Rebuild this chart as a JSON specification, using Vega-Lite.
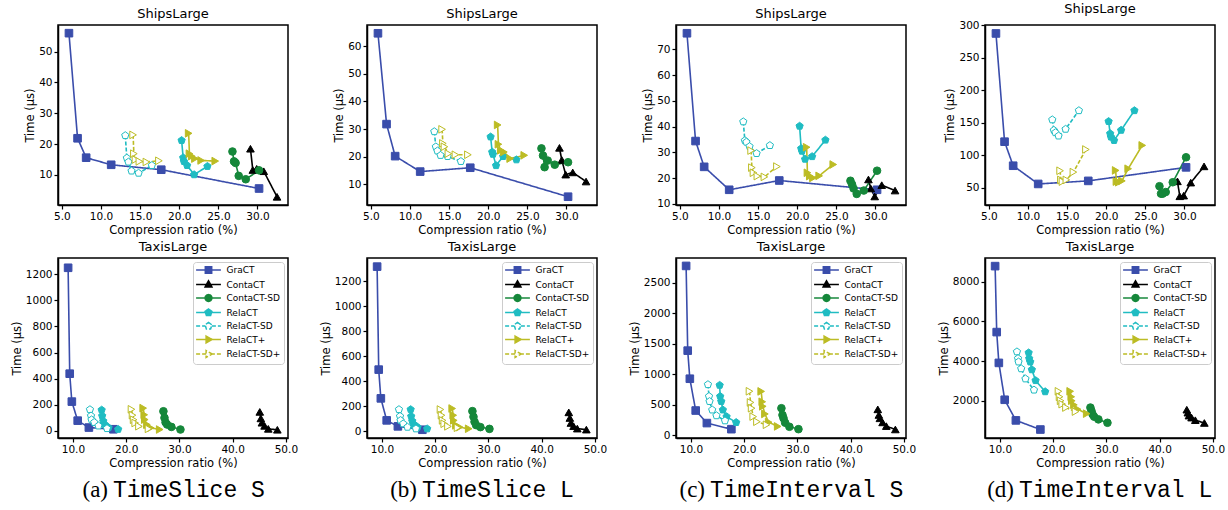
{
"$schema": "https://vega.github.io/schema/vega-lite/v6.json",
"padding": {"left": 10, "top": 2, "right": 5, "bottom": 0},
"params": [{"name": "shp", "value": {
 "GraCT": "M-3.1,0H-0.8M0.8,0H3.1M-0.8,-0.8H0.8V0.8H-0.8Z",
 "ContaCT": "M-3.1,0H-0.6M0.6,0H3.1M0,-0.95L0.85,0.6H-0.85Z",
 "ContaCT-SD": "M-3.1,0H-0.85M0.85,0H3.1M-0.85,0A0.85,0.85 0 1,0 0.85,0A0.85,0.85 0 1,0 -0.85,0Z",
 "RelaCT": "M-3.1,0H-0.85M0.85,0H3.1M0,-0.9L0.856,-0.278L0.529,0.728L-0.529,0.728L-0.856,-0.278Z",
 "RelaCT-SD": "M-3.1,0H-0.85M0.85,0H3.1M0,-0.9L0.856,-0.278L0.529,0.728L-0.529,0.728L-0.856,-0.278Z",
 "RelaCT+": "M-3.1,0H-0.6M0.6,0H3.1M0.95,0L-0.6,-0.85L-0.6,0.85Z",
 "RelaCT-SD+": "M-3.1,0H-0.6M0.6,0H3.1M0.95,0L-0.6,-0.85L-0.6,0.85Z"
}}],
"config": {
 "font": "DejaVu Sans",
 "view": {"stroke": "#000000", "strokeWidth": 1.5, "strokeOpacity": 1},
 "title": {"font": "DejaVu Sans", "fontSize": 13, "fontWeight": "normal", "color": "#000000", "offset": 4},
 "axis": {"labelFont": "DejaVu Sans", "labelFontSize": 10.5, "labelColor": "#000000", "titleFont": "DejaVu Sans", "titleFontSize": 11.5, "titleFontWeight": "normal", "titleColor": "#000000", "grid": false, "domain": true, "domainColor": "#000000", "domainWidth": 1.5, "domainOpacity": 1, "ticks": true, "tickColor": "#000000", "tickOpacity": 1, "tickSize": 4, "tickWidth": 1.2, "labelPadding": 2, "titlePadding": 3},
 "legend": {"orient": "top-right", "offset": 4, "padding": 3, "strokeColor": "#cccccc", "fillColor": "#ffffff", "cornerRadius": 3, "labelFont": "DejaVu Sans", "labelFontSize": 9, "labelColor": "#000000", "symbolSize": 64, "symbolStrokeWidth": 1.5, "symbolOffset": 7.5, "labelOffset": 13, "rowPadding": 0.5, "symbolLimit": 0}
},
"datasets": {
 "T": [
  {"s":"GraCT","i":0,"x":5.9,"a":56,"b":64.7,"c":76.2,"d":287.5},
  {"s":"GraCT","i":1,"x":7.0,"a":21.9,"b":31.8,"c":34.4,"d":121},
  {"s":"GraCT","i":2,"x":8.1,"a":15.6,"b":20.2,"c":24.4,"d":84},
  {"s":"GraCT","i":3,"x":11.3,"a":13.3,"b":14.6,"c":15.5,"d":56},
  {"s":"GraCT","i":4,"x":17.7,"a":11.7,"b":16,"c":19.1,"d":60.7},
  {"s":"GraCT","i":5,"x":30.2,"a":5.6,"b":5.5,"c":15.5,"d":81.5},
  {"s":"ContaCT","i":0,"x":29.1,"a":18.5,"b":23.2,"c":19.5,"d":60},
  {"s":"ContaCT","i":1,"x":29.4,"a":11.6,"b":18.8,"c":16,"d":37},
  {"s":"ContaCT","i":2,"x":29.9,"a":12,"b":13.5,"c":12.9,"d":38},
  {"s":"ContaCT","i":3,"x":30.8,"a":11.2,"b":14.3,"c":17.3,"d":58},
  {"s":"ContaCT","i":4,"x":32.5,"a":2.9,"b":11,"c":15.2,"d":83},
  {"s":"ContaCT-SD","i":0,"x":26.8,"a":17.6,"b":23,"c":19,"d":52.5},
  {"s":"ContaCT-SD","i":1,"x":27.0,"a":14.4,"b":20.4,"c":17.6,"d":41},
  {"s":"ContaCT-SD","i":2,"x":27.2,"a":13.9,"b":16.2,"c":16,"d":41},
  {"s":"ContaCT-SD","i":3,"x":27.6,"a":9.7,"b":18.6,"c":13.9,"d":43.5},
  {"s":"ContaCT-SD","i":4,"x":28.5,"a":8.6,"b":17.1,"c":15.2,"d":58.6},
  {"s":"ContaCT-SD","i":5,"x":30.2,"a":11.5,"b":18,"c":22.9,"d":97},
  {"s":"RelaCT","i":0,"x":20.3,"a":21.2,"b":27.2,"c":40.2,"d":152.2},
  {"s":"RelaCT","i":1,"x":20.5,"a":15.6,"b":21.7,"c":31.5,"d":133.5},
  {"s":"RelaCT","i":2,"x":20.6,"a":14.4,"b":20.9,"c":30.5,"d":128.3},
  {"s":"RelaCT","i":3,"x":21.0,"a":13.1,"b":16.8,"c":27.4,"d":123},
  {"s":"RelaCT","i":4,"x":21.9,"a":10.1,"b":20.1,"c":28.4,"d":138.7},
  {"s":"RelaCT","i":5,"x":23.6,"a":12.8,"b":18.9,"c":34.8,"d":168.9},
  {"s":"RelaCT-SD","i":0,"x":13.1,"a":22.8,"b":29.1,"c":41.9,"d":154.8},
  {"s":"RelaCT-SD","i":1,"x":13.3,"a":15.5,"b":23.6,"c":34.6,"d":138.7},
  {"s":"RelaCT-SD","i":2,"x":13.5,"a":14.2,"b":22.1,"c":34,"d":135},
  {"s":"RelaCT-SD","i":3,"x":13.9,"a":11.3,"b":20.5,"c":32.3,"d":129.9},
  {"s":"RelaCT-SD","i":4,"x":14.8,"a":10.6,"b":20.1,"c":29.6,"d":140.3},
  {"s":"RelaCT-SD","i":5,"x":16.5,"a":13.1,"b":18.3,"c":32.7,"d":168.9},
  {"s":"RelaCT+","i":0,"x":21.2,"a":23.5,"b":31.5,"c":32,"d":76.8},
  {"s":"RelaCT+","i":1,"x":21.3,"a":16.9,"b":24.5,"c":22.1,"d":59.6},
  {"s":"RelaCT+","i":2,"x":21.6,"a":16.1,"b":22.3,"c":20.8,"d":58.6},
  {"s":"RelaCT+","i":3,"x":22.0,"a":15.3,"b":21.7,"c":20.1,"d":60.7},
  {"s":"RelaCT+","i":4,"x":22.8,"a":14.7,"b":19.3,"c":20.9,"d":79.4},
  {"s":"RelaCT+","i":5,"x":24.6,"a":14.5,"b":20.5,"c":25.3,"d":115.3},
  {"s":"RelaCT-SD+","i":0,"x":14.1,"a":23,"b":29.9,"c":30.7,"d":76.3},
  {"s":"RelaCT-SD+","i":1,"x":14.2,"a":16.9,"b":24.8,"c":24.1,"d":62.2},
  {"s":"RelaCT-SD+","i":2,"x":14.4,"a":15,"b":23.6,"c":22.1,"d":59.6},
  {"s":"RelaCT-SD+","i":3,"x":14.9,"a":14.4,"b":21.1,"c":20.8,"d":62.2},
  {"s":"RelaCT-SD+","i":4,"x":15.8,"a":14.2,"b":20.7,"c":20.5,"d":74.2},
  {"s":"RelaCT-SD+","i":5,"x":17.4,"a":14.6,"b":20.7,"c":24.5,"d":109}
 ],
 "B": [
  {"s":"GraCT","i":0,"x":9.1,"a":1250,"b":1316,"c":2780,"d":8784},
  {"s":"GraCT","i":1,"x":9.4,"a":438,"b":492,"c":1389,"d":5460},
  {"s":"GraCT","i":2,"x":9.8,"a":224,"b":262,"c":928,"d":3908},
  {"s":"GraCT","i":3,"x":10.9,"a":78,"b":86,"c":406,"d":2050},
  {"s":"GraCT","i":4,"x":13.0,"a":25,"b":38,"c":200,"d":1010},
  {"s":"GraCT","i":5,"x":17.6,"a":12,"b":11,"c":100,"d":550},
  {"s":"ContaCT","i":0,"x":45.1,"a":145,"b":150,"c":425,"d":1550},
  {"s":"ContaCT","i":1,"x":45.3,"a":95,"b":105,"c":333,"d":1400},
  {"s":"ContaCT","i":2,"x":45.5,"a":62,"b":65,"c":278,"d":1250},
  {"s":"ContaCT","i":3,"x":46.0,"a":38,"b":40,"c":211,"d":1150},
  {"s":"ContaCT","i":4,"x":46.7,"a":15,"b":20,"c":150,"d":1020},
  {"s":"ContaCT","i":5,"x":48.4,"a":8,"b":12,"c":95,"d":880},
  {"s":"ContaCT-SD","i":0,"x":27.0,"a":150,"b":160,"c":444,"d":1657},
  {"s":"ContaCT-SD","i":1,"x":27.2,"a":100,"b":115,"c":333,"d":1487},
  {"s":"ContaCT-SD","i":2,"x":27.4,"a":65,"b":75,"c":278,"d":1316},
  {"s":"ContaCT-SD","i":3,"x":27.7,"a":48,"b":48,"c":206,"d":1197},
  {"s":"ContaCT-SD","i":4,"x":28.5,"a":30,"b":32,"c":139,"d":1061},
  {"s":"ContaCT-SD","i":5,"x":30.2,"a":10,"b":18,"c":100,"d":890},
  {"s":"RelaCT","i":0,"x":15.4,"a":160,"b":173,"c":822,"d":4420},
  {"s":"RelaCT","i":1,"x":15.5,"a":115,"b":119,"c":639,"d":4130},
  {"s":"RelaCT","i":2,"x":15.7,"a":75,"b":81,"c":556,"d":3960},
  {"s":"RelaCT","i":3,"x":16.0,"a":48,"b":54,"c":417,"d":3567},
  {"s":"RelaCT","i":4,"x":16.7,"a":25,"b":32,"c":306,"d":3021},
  {"s":"RelaCT","i":5,"x":18.5,"a":12,"b":19,"c":211,"d":2459},
  {"s":"RelaCT-SD","i":0,"x":13.2,"a":163,"b":173,"c":833,"d":4470},
  {"s":"RelaCT-SD","i":1,"x":13.4,"a":115,"b":119,"c":639,"d":4130},
  {"s":"RelaCT-SD","i":2,"x":13.5,"a":85,"b":86,"c":556,"d":3960},
  {"s":"RelaCT-SD","i":3,"x":14.0,"a":65,"b":59,"c":417,"d":3618},
  {"s":"RelaCT-SD","i":4,"x":14.8,"a":38,"b":32,"c":322,"d":3107},
  {"s":"RelaCT-SD","i":5,"x":16.4,"a":18,"b":19,"c":239,"d":2544},
  {"s":"RelaCT+","i":0,"x":23.2,"a":174,"b":181,"c":720,"d":2476},
  {"s":"RelaCT+","i":1,"x":23.4,"a":123,"b":127,"c":550,"d":2200},
  {"s":"RelaCT+","i":2,"x":23.5,"a":86,"b":86,"c":475,"d":2000},
  {"s":"RelaCT+","i":3,"x":23.9,"a":48,"b":46,"c":350,"d":1794},
  {"s":"RelaCT+","i":4,"x":24.6,"a":23,"b":32,"c":215,"d":1572},
  {"s":"RelaCT+","i":5,"x":26.3,"a":10,"b":19,"c":145,"d":1350},
  {"s":"RelaCT-SD+","i":0,"x":21.0,"a":165,"b":173,"c":722,"d":2476},
  {"s":"RelaCT-SD+","i":1,"x":21.2,"a":120,"b":127,"c":539,"d":2200},
  {"s":"RelaCT-SD+","i":2,"x":21.4,"a":85,"b":86,"c":444,"d":2000},
  {"s":"RelaCT-SD+","i":3,"x":21.7,"a":60,"b":59,"c":306,"d":1828},
  {"s":"RelaCT-SD+","i":4,"x":22.4,"a":35,"b":38,"c":222,"d":1657},
  {"s":"RelaCT-SD+","i":5,"x":24.2,"a":15,"b":27,"c":172,"d":1453}
 ]
},
"columns": 4,
"spacing": {"row": 3, "column": 20},
"resolve": {
 "scale": {"stroke": "independent", "fill": "independent", "shape": "independent", "strokeDash": "independent"},
 "legend": {"stroke": "independent", "fill": "independent", "shape": "independent", "strokeDash": "independent"}
},
"concat": [
 {"title": "ShipsLarge", "width": 230, "height": 180, "view": {"stroke": "#000000", "strokeWidth": 1.5, "strokeOpacity": 1}, "data": {"name": "T"},
  "encoding": {
   "x": {"field": "x", "type": "quantitative", "scale": {"domain": [4.5, 33.9], "nice": false, "zero": false}, "axis": {"values": [5,10,15,20,25,30], "format": ".1f", "title": "Compression ratio (%)", "domain": true, "ticks": true, "domainColor": "#000000", "tickColor": "#000000"}},
   "y": {"field": "a", "type": "quantitative", "scale": {"domain": [0.25, 58.65], "nice": false, "zero": false}, "axis": {"values": [10,20,30,40,50], "format": "d", "title": "Time (μs)", "domain": true, "ticks": true, "domainColor": "#000000", "tickColor": "#000000"}},
   "stroke": {"field": "s", "type": "nominal", "scale": {"domain": ["GraCT","ContaCT","ContaCT-SD","RelaCT","RelaCT-SD","RelaCT+","RelaCT-SD+"], "range": ["#3a4dab","#000000","#15873a","#1fbcc2","#1fbcc2","#bcbc24","#bcbc24"]}, "legend": null}
  },
  "layer": [
   {"mark": {"type": "line", "strokeWidth": 1.6}, "encoding": {"strokeDash": {"field": "s", "type": "nominal", "scale": {"domain": ["GraCT","ContaCT","ContaCT-SD","RelaCT","RelaCT-SD","RelaCT+","RelaCT-SD+"], "range": [[1,0],[1,0],[1,0],[1,0],[4,2],[1,0],[4,2]]}, "legend": null}, "order": {"field": "i", "type": "quantitative"}}},
   {"mark": {"type": "point", "size": 58, "strokeWidth": 1, "opacity": 1}, "encoding": {"fill": {"field": "s", "type": "nominal", "scale": {"domain": ["GraCT","ContaCT","ContaCT-SD","RelaCT","RelaCT-SD","RelaCT+","RelaCT-SD+"], "range": ["#3a4dab","#000000","#15873a","#1fbcc2","#ffffff","#bcbc24","#ffffff"]}, "legend": null}, "shape": {"field": "s", "type": "nominal", "scale": {"domain": ["RelaCT-SD+","RelaCT+","RelaCT-SD","RelaCT","ContaCT-SD","ContaCT","GraCT"], "range": ["triangle-right","triangle-right","M0,-1L0.951,-0.309L0.588,0.809L-0.588,0.809L-0.951,-0.309Z","M0,-1L0.951,-0.309L0.588,0.809L-0.588,0.809L-0.951,-0.309Z","circle","triangle-up","square"]}, "legend": null}}}
  ]},
 {"title": "ShipsLarge", "width": 230, "height": 180, "view": {"stroke": "#000000", "strokeWidth": 1.5, "strokeOpacity": 1}, "data": {"name": "T"},
  "encoding": {
   "x": {"field": "x", "type": "quantitative", "scale": {"domain": [4.5, 33.9], "nice": false, "zero": false}, "axis": {"values": [5,10,15,20,25,30], "format": ".1f", "title": "Compression ratio (%)", "domain": true, "ticks": true, "domainColor": "#000000", "tickColor": "#000000"}},
   "y": {"field": "b", "type": "quantitative", "scale": {"domain": [2.5, 67.7], "nice": false, "zero": false}, "axis": {"values": [10,20,30,40,50,60], "format": "d", "title": "Time (μs)", "domain": true, "ticks": true, "domainColor": "#000000", "tickColor": "#000000"}},
   "stroke": {"field": "s", "type": "nominal", "scale": {"domain": ["GraCT","ContaCT","ContaCT-SD","RelaCT","RelaCT-SD","RelaCT+","RelaCT-SD+"], "range": ["#3a4dab","#000000","#15873a","#1fbcc2","#1fbcc2","#bcbc24","#bcbc24"]}, "legend": null}
  },
  "layer": [
   {"mark": {"type": "line", "strokeWidth": 1.6}, "encoding": {"strokeDash": {"field": "s", "type": "nominal", "scale": {"domain": ["GraCT","ContaCT","ContaCT-SD","RelaCT","RelaCT-SD","RelaCT+","RelaCT-SD+"], "range": [[1,0],[1,0],[1,0],[1,0],[4,2],[1,0],[4,2]]}, "legend": null}, "order": {"field": "i", "type": "quantitative"}}},
   {"mark": {"type": "point", "size": 58, "strokeWidth": 1, "opacity": 1}, "encoding": {"fill": {"field": "s", "type": "nominal", "scale": {"domain": ["GraCT","ContaCT","ContaCT-SD","RelaCT","RelaCT-SD","RelaCT+","RelaCT-SD+"], "range": ["#3a4dab","#000000","#15873a","#1fbcc2","#ffffff","#bcbc24","#ffffff"]}, "legend": null}, "shape": {"field": "s", "type": "nominal", "scale": {"domain": ["RelaCT-SD+","RelaCT+","RelaCT-SD","RelaCT","ContaCT-SD","ContaCT","GraCT"], "range": ["triangle-right","triangle-right","M0,-1L0.951,-0.309L0.588,0.809L-0.588,0.809L-0.951,-0.309Z","M0,-1L0.951,-0.309L0.588,0.809L-0.588,0.809L-0.951,-0.309Z","circle","triangle-up","square"]}, "legend": null}}}
  ]},
 {"title": "ShipsLarge", "width": 230, "height": 180, "view": {"stroke": "#000000", "strokeWidth": 1.5, "strokeOpacity": 1}, "data": {"name": "T"},
  "encoding": {
   "x": {"field": "x", "type": "quantitative", "scale": {"domain": [4.5, 33.9], "nice": false, "zero": false}, "axis": {"values": [5,10,15,20,25,30], "format": ".1f", "title": "Compression ratio (%)", "domain": true, "ticks": true, "domainColor": "#000000", "tickColor": "#000000"}},
   "y": {"field": "c", "type": "quantitative", "scale": {"domain": [9.6, 79.4], "nice": false, "zero": false}, "axis": {"values": [10,20,30,40,50,60,70], "format": "d", "title": "Time (μs)", "domain": true, "ticks": true, "domainColor": "#000000", "tickColor": "#000000"}},
   "stroke": {"field": "s", "type": "nominal", "scale": {"domain": ["GraCT","ContaCT","ContaCT-SD","RelaCT","RelaCT-SD","RelaCT+","RelaCT-SD+"], "range": ["#3a4dab","#000000","#15873a","#1fbcc2","#1fbcc2","#bcbc24","#bcbc24"]}, "legend": null}
  },
  "layer": [
   {"mark": {"type": "line", "strokeWidth": 1.6}, "encoding": {"strokeDash": {"field": "s", "type": "nominal", "scale": {"domain": ["GraCT","ContaCT","ContaCT-SD","RelaCT","RelaCT-SD","RelaCT+","RelaCT-SD+"], "range": [[1,0],[1,0],[1,0],[1,0],[4,2],[1,0],[4,2]]}, "legend": null}, "order": {"field": "i", "type": "quantitative"}}},
   {"mark": {"type": "point", "size": 58, "strokeWidth": 1, "opacity": 1}, "encoding": {"fill": {"field": "s", "type": "nominal", "scale": {"domain": ["GraCT","ContaCT","ContaCT-SD","RelaCT","RelaCT-SD","RelaCT+","RelaCT-SD+"], "range": ["#3a4dab","#000000","#15873a","#1fbcc2","#ffffff","#bcbc24","#ffffff"]}, "legend": null}, "shape": {"field": "s", "type": "nominal", "scale": {"domain": ["RelaCT-SD+","RelaCT+","RelaCT-SD","RelaCT","ContaCT-SD","ContaCT","GraCT"], "range": ["triangle-right","triangle-right","M0,-1L0.951,-0.309L0.588,0.809L-0.588,0.809L-0.951,-0.309Z","M0,-1L0.951,-0.309L0.588,0.809L-0.588,0.809L-0.951,-0.309Z","circle","triangle-up","square"]}, "legend": null}}}
  ]},
 {"title": "ShipsLarge", "width": 230, "height": 180, "view": {"stroke": "#000000", "strokeWidth": 1.5, "strokeOpacity": 1}, "data": {"name": "T"},
  "encoding": {
   "x": {"field": "x", "type": "quantitative", "scale": {"domain": [4.5, 33.9], "nice": false, "zero": false}, "axis": {"values": [5,10,15,20,25,30], "format": ".1f", "title": "Compression ratio (%)", "domain": true, "ticks": true, "domainColor": "#000000", "tickColor": "#000000"}},
   "y": {"field": "d", "type": "quantitative", "scale": {"domain": [23.6, 300.5], "nice": false, "zero": false}, "axis": {"values": [50,100,150,200,250,300], "format": "d", "title": "Time (μs)", "domain": true, "ticks": true, "domainColor": "#000000", "tickColor": "#000000"}},
   "stroke": {"field": "s", "type": "nominal", "scale": {"domain": ["GraCT","ContaCT","ContaCT-SD","RelaCT","RelaCT-SD","RelaCT+","RelaCT-SD+"], "range": ["#3a4dab","#000000","#15873a","#1fbcc2","#1fbcc2","#bcbc24","#bcbc24"]}, "legend": null}
  },
  "layer": [
   {"mark": {"type": "line", "strokeWidth": 1.6}, "encoding": {"strokeDash": {"field": "s", "type": "nominal", "scale": {"domain": ["GraCT","ContaCT","ContaCT-SD","RelaCT","RelaCT-SD","RelaCT+","RelaCT-SD+"], "range": [[1,0],[1,0],[1,0],[1,0],[4,2],[1,0],[4,2]]}, "legend": null}, "order": {"field": "i", "type": "quantitative"}}},
   {"mark": {"type": "point", "size": 58, "strokeWidth": 1, "opacity": 1}, "encoding": {"fill": {"field": "s", "type": "nominal", "scale": {"domain": ["GraCT","ContaCT","ContaCT-SD","RelaCT","RelaCT-SD","RelaCT+","RelaCT-SD+"], "range": ["#3a4dab","#000000","#15873a","#1fbcc2","#ffffff","#bcbc24","#ffffff"]}, "legend": null}, "shape": {"field": "s", "type": "nominal", "scale": {"domain": ["RelaCT-SD+","RelaCT+","RelaCT-SD","RelaCT","ContaCT-SD","ContaCT","GraCT"], "range": ["triangle-right","triangle-right","M0,-1L0.951,-0.309L0.588,0.809L-0.588,0.809L-0.951,-0.309Z","M0,-1L0.951,-0.309L0.588,0.809L-0.588,0.809L-0.951,-0.309Z","circle","triangle-up","square"]}, "legend": null}}}
  ]},
 {"title": "TaxisLarge", "width": 230, "height": 180, "view": {"stroke": "#000000", "strokeWidth": 1.5, "strokeOpacity": 1}, "data": {"name": "B"},
  "encoding": {
   "x": {"field": "x", "type": "quantitative", "scale": {"domain": [7.2, 50.4], "nice": false, "zero": false}, "axis": {"values": [10,20,30,40,50], "format": ".1f", "title": "Compression ratio (%)", "domain": true, "ticks": true, "domainColor": "#000000", "tickColor": "#000000"}},
   "y": {"field": "a", "type": "quantitative", "scale": {"domain": [-55, 1325], "nice": false, "zero": false}, "axis": {"values": [0,200,400,600,800,1000,1200], "format": "d", "title": "Time (μs)", "domain": true, "ticks": true, "domainColor": "#000000", "tickColor": "#000000"}},
   "stroke": {"field": "s", "type": "nominal", "scale": {"domain": ["GraCT","ContaCT","ContaCT-SD","RelaCT","RelaCT-SD","RelaCT+","RelaCT-SD+"], "range": ["#3a4dab","#000000","#15873a","#1fbcc2","#1fbcc2","#bcbc24","#bcbc24"]}, "legend": {"title": null, "encode": {"symbols": {"update": {"shape": {"signal": "shp[datum.value]"}}}}}}
  },
  "layer": [
   {"mark": {"type": "line", "strokeWidth": 1.6}, "encoding": {"strokeDash": {"field": "s", "type": "nominal", "scale": {"domain": ["GraCT","ContaCT","ContaCT-SD","RelaCT","RelaCT-SD","RelaCT+","RelaCT-SD+"], "range": [[1,0],[1,0],[1,0],[1,0],[4,2],[1,0],[4,2]]}, "legend": {"title": null, "encode": {"symbols": {"update": {"shape": {"signal": "shp[datum.value]"}}}}}}, "order": {"field": "i", "type": "quantitative"}}},
   {"mark": {"type": "point", "size": 58, "strokeWidth": 1, "opacity": 1}, "encoding": {"fill": {"field": "s", "type": "nominal", "scale": {"domain": ["GraCT","ContaCT","ContaCT-SD","RelaCT","RelaCT-SD","RelaCT+","RelaCT-SD+"], "range": ["#3a4dab","#000000","#15873a","#1fbcc2","#ffffff","#bcbc24","#ffffff"]}, "legend": {"title": null, "encode": {"symbols": {"update": {"shape": {"signal": "shp[datum.value]"}}}}}}, "shape": {"field": "s", "type": "nominal", "scale": {"domain": ["RelaCT-SD+","RelaCT+","RelaCT-SD","RelaCT","ContaCT-SD","ContaCT","GraCT"], "range": ["triangle-right","triangle-right","M0,-1L0.951,-0.309L0.588,0.809L-0.588,0.809L-0.951,-0.309Z","M0,-1L0.951,-0.309L0.588,0.809L-0.588,0.809L-0.951,-0.309Z","circle","triangle-up","square"]}, "legend": null}}}
  ]},
 {"title": "TaxisLarge", "width": 230, "height": 180, "view": {"stroke": "#000000", "strokeWidth": 1.5, "strokeOpacity": 1}, "data": {"name": "B"},
  "encoding": {
   "x": {"field": "x", "type": "quantitative", "scale": {"domain": [7.2, 50.4], "nice": false, "zero": false}, "axis": {"values": [10,20,30,40,50], "format": ".1f", "title": "Compression ratio (%)", "domain": true, "ticks": true, "domainColor": "#000000", "tickColor": "#000000"}},
   "y": {"field": "b", "type": "quantitative", "scale": {"domain": [-55, 1385], "nice": false, "zero": false}, "axis": {"values": [0,200,400,600,800,1000,1200], "format": "d", "title": "Time (μs)", "domain": true, "ticks": true, "domainColor": "#000000", "tickColor": "#000000"}},
   "stroke": {"field": "s", "type": "nominal", "scale": {"domain": ["GraCT","ContaCT","ContaCT-SD","RelaCT","RelaCT-SD","RelaCT+","RelaCT-SD+"], "range": ["#3a4dab","#000000","#15873a","#1fbcc2","#1fbcc2","#bcbc24","#bcbc24"]}, "legend": {"title": null, "encode": {"symbols": {"update": {"shape": {"signal": "shp[datum.value]"}}}}}}
  },
  "layer": [
   {"mark": {"type": "line", "strokeWidth": 1.6}, "encoding": {"strokeDash": {"field": "s", "type": "nominal", "scale": {"domain": ["GraCT","ContaCT","ContaCT-SD","RelaCT","RelaCT-SD","RelaCT+","RelaCT-SD+"], "range": [[1,0],[1,0],[1,0],[1,0],[4,2],[1,0],[4,2]]}, "legend": {"title": null, "encode": {"symbols": {"update": {"shape": {"signal": "shp[datum.value]"}}}}}}, "order": {"field": "i", "type": "quantitative"}}},
   {"mark": {"type": "point", "size": 58, "strokeWidth": 1, "opacity": 1}, "encoding": {"fill": {"field": "s", "type": "nominal", "scale": {"domain": ["GraCT","ContaCT","ContaCT-SD","RelaCT","RelaCT-SD","RelaCT+","RelaCT-SD+"], "range": ["#3a4dab","#000000","#15873a","#1fbcc2","#ffffff","#bcbc24","#ffffff"]}, "legend": {"title": null, "encode": {"symbols": {"update": {"shape": {"signal": "shp[datum.value]"}}}}}}, "shape": {"field": "s", "type": "nominal", "scale": {"domain": ["RelaCT-SD+","RelaCT+","RelaCT-SD","RelaCT","ContaCT-SD","ContaCT","GraCT"], "range": ["triangle-right","triangle-right","M0,-1L0.951,-0.309L0.588,0.809L-0.588,0.809L-0.951,-0.309Z","M0,-1L0.951,-0.309L0.588,0.809L-0.588,0.809L-0.951,-0.309Z","circle","triangle-up","square"]}, "legend": null}}}
  ]},
 {"title": "TaxisLarge", "width": 230, "height": 180, "view": {"stroke": "#000000", "strokeWidth": 1.5, "strokeOpacity": 1}, "data": {"name": "B"},
  "encoding": {
   "x": {"field": "x", "type": "quantitative", "scale": {"domain": [7.2, 50.4], "nice": false, "zero": false}, "axis": {"values": [10,20,30,40,50], "format": ".1f", "title": "Compression ratio (%)", "domain": true, "ticks": true, "domainColor": "#000000", "tickColor": "#000000"}},
   "y": {"field": "c", "type": "quantitative", "scale": {"domain": [-45, 2910], "nice": false, "zero": false}, "axis": {"values": [0,500,1000,1500,2000,2500], "format": "d", "title": "Time (μs)", "domain": true, "ticks": true, "domainColor": "#000000", "tickColor": "#000000"}},
   "stroke": {"field": "s", "type": "nominal", "scale": {"domain": ["GraCT","ContaCT","ContaCT-SD","RelaCT","RelaCT-SD","RelaCT+","RelaCT-SD+"], "range": ["#3a4dab","#000000","#15873a","#1fbcc2","#1fbcc2","#bcbc24","#bcbc24"]}, "legend": {"title": null, "encode": {"symbols": {"update": {"shape": {"signal": "shp[datum.value]"}}}}}}
  },
  "layer": [
   {"mark": {"type": "line", "strokeWidth": 1.6}, "encoding": {"strokeDash": {"field": "s", "type": "nominal", "scale": {"domain": ["GraCT","ContaCT","ContaCT-SD","RelaCT","RelaCT-SD","RelaCT+","RelaCT-SD+"], "range": [[1,0],[1,0],[1,0],[1,0],[4,2],[1,0],[4,2]]}, "legend": {"title": null, "encode": {"symbols": {"update": {"shape": {"signal": "shp[datum.value]"}}}}}}, "order": {"field": "i", "type": "quantitative"}}},
   {"mark": {"type": "point", "size": 58, "strokeWidth": 1, "opacity": 1}, "encoding": {"fill": {"field": "s", "type": "nominal", "scale": {"domain": ["GraCT","ContaCT","ContaCT-SD","RelaCT","RelaCT-SD","RelaCT+","RelaCT-SD+"], "range": ["#3a4dab","#000000","#15873a","#1fbcc2","#ffffff","#bcbc24","#ffffff"]}, "legend": {"title": null, "encode": {"symbols": {"update": {"shape": {"signal": "shp[datum.value]"}}}}}}, "shape": {"field": "s", "type": "nominal", "scale": {"domain": ["RelaCT-SD+","RelaCT+","RelaCT-SD","RelaCT","ContaCT-SD","ContaCT","GraCT"], "range": ["triangle-right","triangle-right","M0,-1L0.951,-0.309L0.588,0.809L-0.588,0.809L-0.951,-0.309Z","M0,-1L0.951,-0.309L0.588,0.809L-0.588,0.809L-0.951,-0.309Z","circle","triangle-up","square"]}, "legend": null}}}
  ]},
 {"title": "TaxisLarge", "width": 230, "height": 180, "view": {"stroke": "#000000", "strokeWidth": 1.5, "strokeOpacity": 1}, "data": {"name": "B"},
  "encoding": {
   "x": {"field": "x", "type": "quantitative", "scale": {"domain": [7.2, 50.4], "nice": false, "zero": false}, "axis": {"values": [10,20,30,40,50], "format": ".1f", "title": "Compression ratio (%)", "domain": true, "ticks": true, "domainColor": "#000000", "tickColor": "#000000"}},
   "y": {"field": "d", "type": "quantitative", "scale": {"domain": [123, 9194], "nice": false, "zero": false}, "axis": {"values": [2000,4000,6000,8000], "format": "d", "title": "Time (μs)", "domain": true, "ticks": true, "domainColor": "#000000", "tickColor": "#000000"}},
   "stroke": {"field": "s", "type": "nominal", "scale": {"domain": ["GraCT","ContaCT","ContaCT-SD","RelaCT","RelaCT-SD","RelaCT+","RelaCT-SD+"], "range": ["#3a4dab","#000000","#15873a","#1fbcc2","#1fbcc2","#bcbc24","#bcbc24"]}, "legend": {"title": null, "encode": {"symbols": {"update": {"shape": {"signal": "shp[datum.value]"}}}}}}
  },
  "layer": [
   {"mark": {"type": "line", "strokeWidth": 1.6}, "encoding": {"strokeDash": {"field": "s", "type": "nominal", "scale": {"domain": ["GraCT","ContaCT","ContaCT-SD","RelaCT","RelaCT-SD","RelaCT+","RelaCT-SD+"], "range": [[1,0],[1,0],[1,0],[1,0],[4,2],[1,0],[4,2]]}, "legend": {"title": null, "encode": {"symbols": {"update": {"shape": {"signal": "shp[datum.value]"}}}}}}, "order": {"field": "i", "type": "quantitative"}}},
   {"mark": {"type": "point", "size": 58, "strokeWidth": 1, "opacity": 1}, "encoding": {"fill": {"field": "s", "type": "nominal", "scale": {"domain": ["GraCT","ContaCT","ContaCT-SD","RelaCT","RelaCT-SD","RelaCT+","RelaCT-SD+"], "range": ["#3a4dab","#000000","#15873a","#1fbcc2","#ffffff","#bcbc24","#ffffff"]}, "legend": {"title": null, "encode": {"symbols": {"update": {"shape": {"signal": "shp[datum.value]"}}}}}}, "shape": {"field": "s", "type": "nominal", "scale": {"domain": ["RelaCT-SD+","RelaCT+","RelaCT-SD","RelaCT","ContaCT-SD","ContaCT","GraCT"], "range": ["triangle-right","triangle-right","M0,-1L0.951,-0.309L0.588,0.809L-0.588,0.809L-0.951,-0.309Z","M0,-1L0.951,-0.309L0.588,0.809L-0.588,0.809L-0.951,-0.309Z","circle","triangle-up","square"]}, "legend": null}}}
  ]},
 {"width": 230, "height": 34, "view": {"stroke": null}, "data": {"values": [{"p": "(a)", "n": "TimeSlice S"}]},
  "layer": [
   {"mark": {"type": "text", "font": "Liberation Serif", "fontSize": 23, "align": "right", "baseline": "middle", "dx": -65, "color": "#000000"}, "encoding": {"text": {"field": "p", "type": "nominal"}}},
   {"mark": {"type": "text", "font": "Liberation Mono", "fontSize": 23, "align": "left", "baseline": "middle", "dx": -60, "color": "#000000"}, "encoding": {"text": {"field": "n", "type": "nominal"}}}
  ]},
 {"width": 230, "height": 34, "view": {"stroke": null}, "data": {"values": [{"p": "(b)", "n": "TimeSlice L"}]},
  "layer": [
   {"mark": {"type": "text", "font": "Liberation Serif", "fontSize": 23, "align": "right", "baseline": "middle", "dx": -65, "color": "#000000"}, "encoding": {"text": {"field": "p", "type": "nominal"}}},
   {"mark": {"type": "text", "font": "Liberation Mono", "fontSize": 23, "align": "left", "baseline": "middle", "dx": -60, "color": "#000000"}, "encoding": {"text": {"field": "n", "type": "nominal"}}}
  ]},
 {"width": 230, "height": 34, "view": {"stroke": null}, "data": {"values": [{"p": "(c)", "n": "TimeInterval S"}]},
  "layer": [
   {"mark": {"type": "text", "font": "Liberation Serif", "fontSize": 23, "align": "right", "baseline": "middle", "dx": -86, "color": "#000000"}, "encoding": {"text": {"field": "p", "type": "nominal"}}},
   {"mark": {"type": "text", "font": "Liberation Mono", "fontSize": 23, "align": "left", "baseline": "middle", "dx": -81, "color": "#000000"}, "encoding": {"text": {"field": "n", "type": "nominal"}}}
  ]},
 {"width": 230, "height": 34, "view": {"stroke": null}, "data": {"values": [{"p": "(d)", "n": "TimeInterval L"}]},
  "layer": [
   {"mark": {"type": "text", "font": "Liberation Serif", "fontSize": 23, "align": "right", "baseline": "middle", "dx": -86, "color": "#000000"}, "encoding": {"text": {"field": "p", "type": "nominal"}}},
   {"mark": {"type": "text", "font": "Liberation Mono", "fontSize": 23, "align": "left", "baseline": "middle", "dx": -81, "color": "#000000"}, "encoding": {"text": {"field": "n", "type": "nominal"}}}
  ]}
]
}
